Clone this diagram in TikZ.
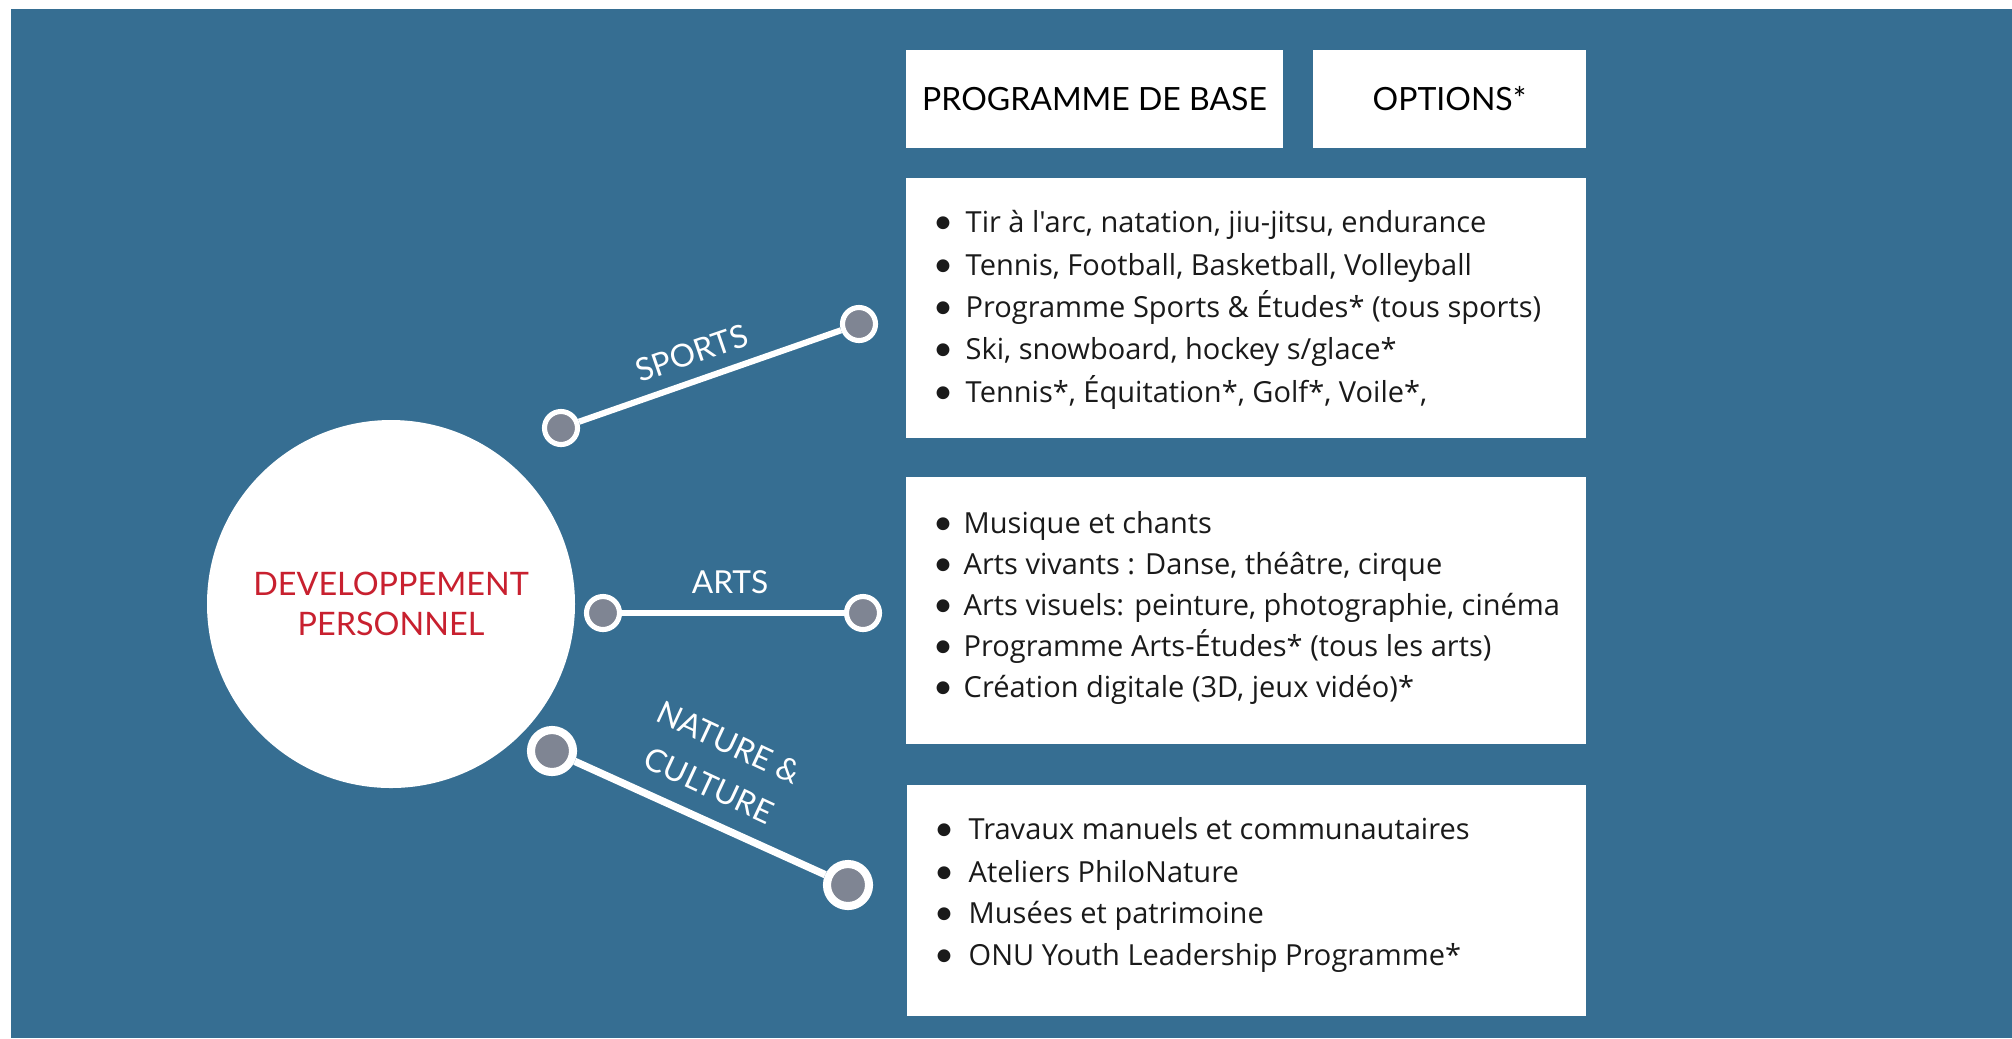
\documentclass[tikz,border=0pt]{standalone}
\usepackage{fontspec}
\setmainfont{Lato}
\newfontfamily\itemfont{Open Sans}[Ligatures=NoCommon]
\definecolor{bgblue}{HTML}{366E92}
\definecolor{dotgray}{HTML}{7F8593}
\definecolor{titlered}{HTML}{C8202F}
\definecolor{txt}{HTML}{1A1A1A}
\begin{document}
\begin{tikzpicture}[x=0.01cm,y=-0.01cm,
  panel/.style={fill=white, draw=none},
  headtext/.style={font=\fontsize{9.1}{11}\selectfont, text=black},
  item/.style={anchor=base west, font=\itemfont\fontsize{8.25}{9.5}\selectfont, text=txt, inner sep=0pt},
  bul/.style={anchor=base, font=\fontsize{9.8}{11}\selectfont, text=txt, inner sep=0pt},
  lbl/.style={font=\fontsize{9}{13.5}\selectfont, text=white, align=center, inner sep=0pt},
  dot/.style={circle, fill=dotgray, draw=white, line width=1.45pt, minimum size=0.33cm, inner sep=0pt},
  bigdot/.style={circle, fill=dotgray, draw=white, line width=2.3pt, minimum size=0.42cm, inner sep=0pt},
  link/.style={draw=white, line width=1.75pt}
]
\useasboundingbox (0,0) rectangle (2012,1038);
\fill[white] (0,0) rectangle (2012,1038);
\fill[bgblue] (11,9) rectangle (2012,1038);

% header boxes
\fill[panel] (906,50) rectangle (1283,148);
\node[headtext] (hbase) at (1094.5,99) {PROGRAMME DE BASE};
\fill[panel] (1313,50) rectangle (1586,148);
\node[headtext] (hopt) at (1449.5,99) {OPTIONS*};

% content panels
\fill[panel] (906,178) rectangle (1586,438);
\fill[panel] (906,477) rectangle (1586,744);
\fill[panel] (907,785) rectangle (1586,1016);

% centre circle
\fill[white] (391,604) circle[radius=184];
\node[font=\fontsize{9.2}{11.3}\selectfont, text=titlered, align=center, inner sep=0pt] (core) at (391,604)
  {DEVELOPPEMENT\\PERSONNEL};

% sports
\node[dot] (sa) at (561,428) {};
\node[dot] (sb) at (859,324) {};
\draw[link] (sa) -- (sb);
\node[lbl, rotate=19] (lsports) at (692,353) {SPORTS};

% arts
\node[dot] (aa) at (603,613) {};
\node[dot] (ab) at (863,613) {};
\draw[link] (aa) -- (ab);
\node[lbl] (larts) at (730,582) {ARTS};

% nature
\node[bigdot] (na) at (552,751) {};
\node[bigdot] (nb) at (848,885) {};
\draw[link, line width=2.1pt] (na) -- (nb);
\node[lbl, rotate=-25] (lnature) at (719,764) {NATURE \&\\CULTURE};

% sports items
\node[bul] (s1b) at (943,233) {•};
\node[item] (s1) at (965,232) {Tir à l'arc, natation, jiu-jitsu, endurance};
\node[bul] (s2b) at (943,276) {•};
\node[item] (s2) at (965,275) {Tennis, Football, Basketball, Volleyball};
\node[bul] (s3b) at (943,318) {•};
\node[item] (s3) at (965,317) {Programme Sports \& Études* (tous sports)};
\node[bul] (s4b) at (943,360) {•};
\node[item] (s4) at (965,359) {Ski, snowboard, hockey s/glace*};
\node[bul] (s5b) at (943,403) {•};
\node[item] (s5) at (965,402) {Tennis*, Équitation*, Golf*, Voile*,};

% arts items
\node[bul] (a1b) at (943,534) {•};
\node[item] (a1) at (963,533) {Musique et chants};
\node[bul] (a2b) at (943,575) {•};
\node[item] (a2) at (963,574) {Arts vivants : Danse, théâtre, cirque};
\node[bul] (a3b) at (943,616) {•};
\node[item] (a3) at (963,615) {Arts visuels: peinture, photographie, cinéma};
\node[bul] (a4b) at (943,657) {•};
\node[item] (a4) at (963,656) {Programme Arts-Études* (tous les arts)};
\node[bul] (a5b) at (943,698) {•};
\node[item] (a5) at (963,697) {Création digitale (3D, jeux vidéo)*};

% nature items
\node[bul] (n1b) at (944,840) {•};
\node[item] (n1) at (968,839) {Travaux manuels et communautaires};
\node[bul] (n2b) at (944,883) {•};
\node[item] (n2) at (968,882) {Ateliers PhiloNature};
\node[bul] (n3b) at (944,924) {•};
\node[item] (n3) at (968,923) {Musées et patrimoine};
\node[bul] (n4b) at (944,966) {•};
\node[item] (n4) at (968,965) {ONU Youth Leadership Programme*};
\end{tikzpicture}
\end{document}
